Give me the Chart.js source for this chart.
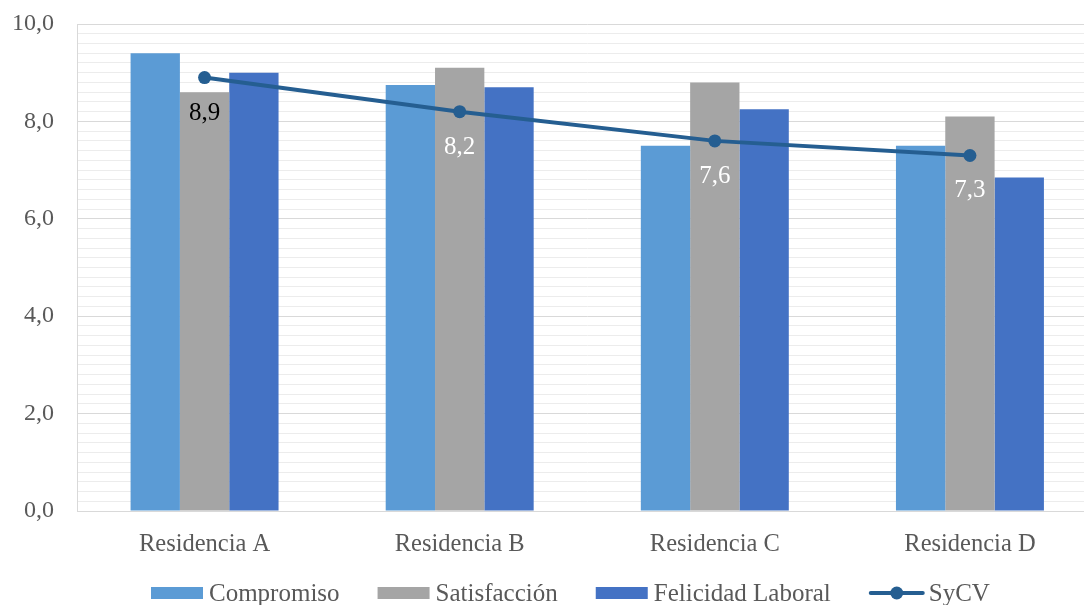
<!DOCTYPE html>
<html><head><meta charset="utf-8">
<script src="https://cdn.jsdelivr.net/npm/chart.js@4/dist/chart.umd.min.js"></script>
<style>
html,body{margin:0;padding:0;background:#fff;overflow:hidden;}
#wrap{position:relative;width:1104px;height:605px;}
</style></head><body>
<div id="wrap"><canvas id="c"></canvas></div>
<script>
// Categories and series
const categories = ['Residencia A', 'Residencia B', 'Residencia C', 'Residencia D'];
const compromiso = [9.4, 8.75, 7.5, 7.5];
const satisfaccion = [8.6, 9.1, 8.8, 8.1];
const felicidad = [9.0, 8.7, 8.25, 6.85];
const sycv = [8.9, 8.2, 7.6, 7.3];
const sycvLabelColors = ['#000000', '#ffffff', '#ffffff', '#ffffff'];
const majorTicks = [0, 2, 4, 6, 8, 10];

const FONT = "'Liberation Serif', 'DejaVu Serif', serif";
const TEXT_GREY = '#595959';
const fmt = v => v.toFixed(1).replace('.', ',');
const isMajor = v => majorTicks.some(m => Math.abs(m - v) < 1e-6);

// Value labels under the SyCV points
const sycvLabels = {
  id: 'sycvLabels',
  afterDatasetsDraw(chart) {
    const ctx = chart.ctx;
    const idx = chart.data.datasets.findIndex(d => d.type === 'line');
    const meta = chart.getDatasetMeta(idx);
    const data = chart.data.datasets[idx].data;
    ctx.save();
    ctx.font = '25px ' + FONT;
    ctx.textAlign = 'center';
    ctx.textBaseline = 'alphabetic';
    meta.data.forEach((pt, i) => {
      ctx.fillStyle = sycvLabelColors[i];
      ctx.fillText(fmt(data[i]), pt.x, pt.y + 42);
    });
    ctx.restore();
  }
};

// Legend row along the bottom edge
const bottomLegend = {
  id: 'bottomLegend',
  afterDraw(chart) {
    const ctx = chart.ctx;
    const y = 593;
    const boxW = 52, boxH = 12, lineW = 56, gapItem = 38;
    ctx.save();
    ctx.font = '25px ' + FONT;
    ctx.textBaseline = 'alphabetic';
    ctx.textAlign = 'left';
    let x = 151;
    chart.data.datasets.forEach(ds => {
      if (ds.type === 'line') {
        ctx.strokeStyle = ds.borderColor;
        ctx.lineWidth = ds.borderWidth;
        ctx.lineCap = 'round';
        ctx.beginPath();
        ctx.moveTo(x + 2, y);
        ctx.lineTo(x + lineW - 2, y);
        ctx.stroke();
        ctx.fillStyle = ds.borderColor;
        ctx.beginPath();
        ctx.arc(x + lineW / 2, y, ds.pointRadius, 0, Math.PI * 2);
        ctx.fill();
        x += lineW + 4;
      } else {
        ctx.fillStyle = ds.backgroundColor;
        ctx.fillRect(x, y - boxH / 2, boxW, boxH);
        x += boxW + 6;
      }
      ctx.fillStyle = TEXT_GREY;
      ctx.fillText(ds.label, x, 601);
      x += ctx.measureText(ds.label).width + gapItem;
    });
    ctx.restore();
  }
};

new Chart(document.getElementById('c'), {
  data: {
    labels: categories,
    datasets: [
      { type: 'bar', label: 'Compromiso', data: compromiso, backgroundColor: '#5b9bd5', order: 2 },
      { type: 'bar', label: 'Satisfacción', data: satisfaccion, backgroundColor: '#a5a5a5', order: 2 },
      { type: 'bar', label: 'Felicidad Laboral', data: felicidad, backgroundColor: '#4472c4', order: 2 },
      { type: 'line', label: 'SyCV', data: sycv, borderColor: '#255e91', backgroundColor: '#255e91',
        borderWidth: 4, pointRadius: 6.5, pointBackgroundColor: '#255e91', pointBorderWidth: 0,
        tension: 0, order: 0 }
    ]
  },
  options: {
    responsive: true,
    maintainAspectRatio: false,
    animation: false,
    layout: { padding: { top: 24, left: 12, right: 5, bottom: 34 } },
    datasets: { bar: { categoryPercentage: 0.58, barPercentage: 1.0 } },
    plugins: { legend: { display: false }, tooltip: { enabled: false } },
    scales: {
      x: {
        grid: { display: false, drawTicks: false },
        border: { color: '#d9d9d9', width: 1 },
        ticks: { color: TEXT_GREY, font: { family: FONT, size: 24.5 }, padding: 19, maxRotation: 0 },
        afterFit(s) { s.height = 60; s.paddingLeft = 0; s.paddingRight = 0; }
      },
      y: {
        min: 0, max: 10,
        grid: {
          drawTicks: false,
          color: c => isMajor(c.tick.value) ? '#d9d9d9' : '#ececec',
          lineWidth: 1
        },
        border: { color: '#d9d9d9', width: 1 },
        ticks: {
          stepSize: 0.2, autoSkip: false, padding: 23,
          color: TEXT_GREY, font: { family: FONT, size: 24 },
          callback: v => isMajor(v) ? fmt(v) : ''
        },
        afterFit(s) { s.width = 65; s.paddingTop = 0; s.paddingBottom = 0; }
      }
    }
  },
  plugins: [sycvLabels, bottomLegend]
});
</script>
</body></html>
